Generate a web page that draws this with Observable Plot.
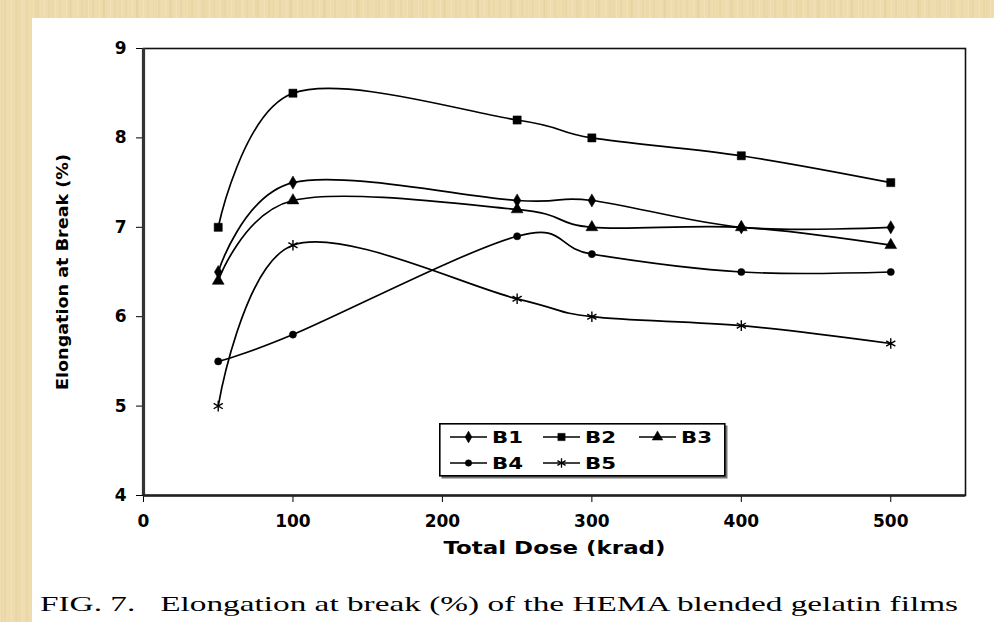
<!DOCTYPE html>
<html>
<head>
<meta charset="utf-8">
<script src="https://cdn.jsdelivr.net/npm/d3@7"></script>
<script src="https://cdn.jsdelivr.net/npm/@observablehq/plot@0.6"></script>
<style>
  html, body { margin: 0; padding: 0; }
  body {
    width: 994px; height: 622px; overflow: hidden; position: relative;
    background-color: #efdcae;
    background-image:
      repeating-linear-gradient(90deg, rgba(255,250,230,0.18) 0 1px, rgba(0,0,0,0) 1px 4px, rgba(190,160,100,0.10) 4px 6px, rgba(0,0,0,0) 6px 11px),
      repeating-linear-gradient(90deg, rgba(200,170,110,0.08) 0 3px, rgba(0,0,0,0) 3px 17px);
  }
  #panel { position: absolute; left: 32px; top: 18px; right: 0; bottom: 0; background: #fff; }
  #chart { position: absolute; left: 0; top: 0; }
  #legend { position: absolute; left: 439px; top: 423px; }
  #caption { position: absolute; left: 0; top: 580px; }
</style>
</head>
<body>
<div id="panel"></div>
<div id="chart"></div>
<div id="legend"></div>
<div id="caption"></div>
<script>
// Elongation at break (%) versus total dose (krad) for blends B1–B5
const doses = [50, 100, 250, 300, 400, 500];
const seriesNames = ["B1", "B2", "B3", "B4", "B5"];
const b1 = [6.5, 7.5, 7.3, 7.3, 7.0, 7.0];
const b2 = [7.0, 8.5, 8.2, 8.0, 7.8, 7.5];
const b3 = [6.4, 7.3, 7.2, 7.0, 7.0, 6.8];
const b4 = [5.5, 5.8, 6.9, 6.7, 6.5, 6.5];
const b5 = [5.0, 6.8, 6.2, 6.0, 5.9, 5.7];
const xTickValues = [0, 100, 200, 300, 400, 500];
const yTickValues = [4, 5, 6, 7, 8, 9];
const xTitle = "Total Dose (krad)";
const yTitle = "Elongation at Break (%)";
const captionText = "FIG. 7.   Elongation at break (%) of the HEMA blended gelatin films";

const seriesValues = [b1, b2, b3, b4, b5];
const markers = {
  B1: {symbol: "diamond", r: 4.0, filled: true},
  B2: {symbol: "square", r: 4.6, filled: true},
  B3: {symbol: "triangle", r: 4.4, filled: true},
  B4: {symbol: "circle", r: 3.6, filled: true},
  B5: {symbol: "asterisk", r: 5.0, filled: false}
};

const rows = seriesNames.flatMap((name, i) =>
  doses.map((dose, j) => ({series: name, dose, value: seriesValues[i][j]}))
);

const marks = [
  Plot.frame({stroke: "#111", strokeWidth: 1.6}),
  Plot.ruleX([0], {stroke: "#333", strokeWidth: 3.2}),
  Plot.ruleY([4], {stroke: "#222", strokeWidth: 2.4}),
  Plot.line(rows, {x: "dose", y: "value", z: "series", curve: "cardinal", stroke: "#000", strokeWidth: 1.7}),
  ...seriesNames.map((name) => {
    const m = markers[name];
    return Plot.dot(rows.filter((d) => d.series === name), {
      x: "dose", y: "value", symbol: () => m.symbol, r: m.r,
      fill: m.filled ? "#000" : "none",
      stroke: "#000", strokeWidth: m.filled ? 0.5 : 1.4
    });
  }),
  Plot.text([yTitle], {text: (d) => d, frameAnchor: "left", textAnchor: "middle", dx: -81, rotate: -90,
    fontSize: 16, fontWeight: "bold", fill: "#000"}),
  Plot.text([xTitle], {text: (d) => d, frameAnchor: "bottom", textAnchor: "middle", dy: 58,
    fontSize: 17, fontWeight: "bold", fill: "#000"})
];

const chart = Plot.plot({
  width: 994,
  height: 540,
  marginLeft: 143,
  marginRight: 29,
  marginTop: 48,
  marginBottom: 45,
  style: {fontFamily: "DejaVu Sans", fontSize: "17px", fontWeight: "bold", color: "#000", background: "transparent", overflow: "visible"},
  x: {domain: [0, 550], ticks: xTickValues.length, tickSize: 7, tickPadding: 12, label: null, tickFormat: (d) => String(d)},
  y: {domain: [4, 9], ticks: yTickValues.length - 1, tickSize: 7, tickPadding: 10, label: null, tickFormat: (d) => String(d)},
  symbol: {domain: seriesNames.map((n) => markers[n].symbol), range: seriesNames.map((n) => markers[n].symbol)},
  marks
});
document.getElementById("chart").appendChild(chart);

// widen the axis titles to their printed lengths
chart.querySelectorAll("text").forEach((t) => {
  if (t.textContent === xTitle) { t.setAttribute("textLength", 222); t.setAttribute("lengthAdjust", "spacingAndGlyphs"); }
  if (t.textContent === yTitle) { t.setAttribute("textLength", 236); t.setAttribute("lengthAdjust", "spacingAndGlyphs"); }
});

// Legend box: two rows of line-and-marker samples
const legendW = 287, legendH = 54;
const lsvg = d3.select("#legend").append("svg").attr("width", legendW + 4).attr("height", legendH + 4);
lsvg.append("rect").attr("x", 2.5).attr("y", 2.5).attr("width", legendW - 1).attr("height", legendH - 1)
  .attr("fill", "#777");
lsvg.append("rect").attr("x", 0.8).attr("y", 0.8).attr("width", legendW - 2).attr("height", legendH - 2)
  .attr("fill", "#fff").attr("stroke", "#000").attr("stroke-width", 1.6);
const symbolTypes = {diamond: d3.symbolDiamond, square: d3.symbolSquare, triangle: d3.symbolTriangle, circle: d3.symbolCircle, asterisk: d3.symbolAsterisk};
const slots = [[11, 14], [104, 14], [200, 14], [11, 40], [104, 40]];
seriesNames.forEach((name, i) => {
  const [sx, sy] = slots[i];
  const m = markers[name];
  const g = lsvg.append("g").attr("transform", `translate(${sx},${sy})`);
  g.append("line").attr("x1", 0).attr("x2", 37).attr("y1", 0).attr("y2", 0).attr("stroke", "#000").attr("stroke-width", 1.6);
  g.append("path").attr("transform", "translate(18.5,0)")
    .attr("d", d3.symbol(symbolTypes[m.symbol], Math.PI * m.r * m.r * 0.8)())
    .attr("fill", m.filled ? "#000" : "none").attr("stroke", "#000").attr("stroke-width", m.filled ? 0.5 : 1.3);
  g.append("text").attr("x", 42).attr("y", 6).attr("font-family", "DejaVu Sans").attr("font-weight", "bold")
    .attr("font-size", 16).attr("textLength", 31).attr("lengthAdjust", "spacingAndGlyphs").text(name);
});

// Figure caption under the chart
const csvg = d3.select("#caption").append("svg").attr("width", 994).attr("height", 42);
csvg.append("text").attr("x", 40).attr("y", 31).attr("font-family", "Liberation Serif").attr("font-size", 21)
  .attr("textLength", 918).attr("lengthAdjust", "spacingAndGlyphs").attr("fill", "#000")
  .style("white-space", "pre").text(captionText);
</script>
</body>
</html>
